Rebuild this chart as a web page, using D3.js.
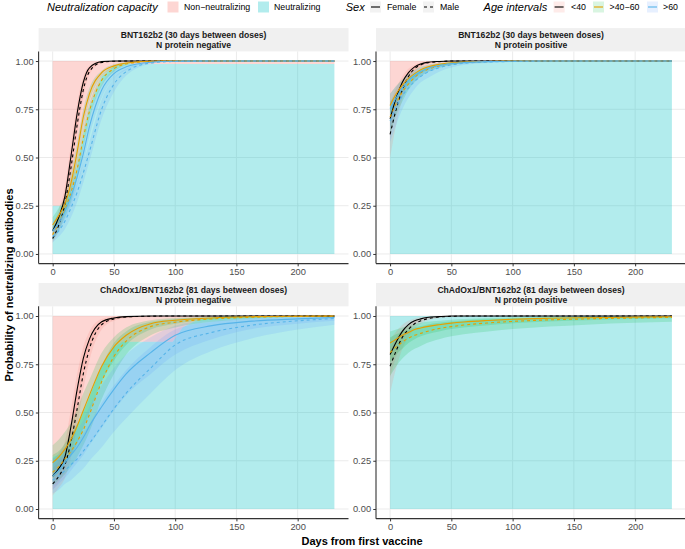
<!DOCTYPE html>
<html><head><meta charset="utf-8">
<script src="https://cdn.jsdelivr.net/npm/d3@7"></script>
<style>
body{margin:0;background:#fff;}
text{font-family:"Liberation Sans",Arial,Helvetica,sans-serif;}
</style></head>
<body>
<svg id="chart" width="685" height="549"></svg>
<script>
// ---------------- data ----------------
const days = [0,5,10,15,20,25,30,40,50,60,80,100,130,160,200,230];
const ageLevels = ["<40", ">40\u221260", ">60"];
const sexLevels = ["Female", "Male"];
const capacityLevels = ["Non\u2212neutralizing", "Neutralizing"];
const xTicks = [0,50,100,150,200];
const yTicks = [0,0.25,0.5,0.75,1];
const panelTitles = [
  ["BNT162b2 (30 days between doses)", "N protein negative"],
  ["BNT162b2 (30 days between doses)", "N protein positive"],
  ["ChAdOx1/BNT162b2 (81 days between doses)", "N protein negative"],
  ["ChAdOx1/BNT162b2 (81 days between doses)", "N protein positive"]
];

// Panel 1: BNT162b2, N protein negative   [Female, Male]
const bntNeg_lt40 = [
  [0.12,0.19,0.30,0.51,0.73,0.89,0.965,0.997,1,1,1,1,1,1,1,1],
  [0.08,0.15,0.26,0.45,0.67,0.85,0.945,0.993,0.999,1,1,1,1,1,1,1]];
const bntNeg_lt40_lo = [
  [0.09,0.15,0.25,0.45,0.68,0.86,0.95,0.993,0.999,1,1,1,1,1,1,1],
  [0.06,0.12,0.22,0.39,0.61,0.81,0.93,0.988,0.998,1,1,1,1,1,1,1]];
const bntNeg_lt40_hi = [
  [0.15,0.23,0.35,0.57,0.78,0.92,0.975,0.999,1,1,1,1,1,1,1,1],
  [0.11,0.19,0.31,0.51,0.72,0.88,0.96,0.996,1,1,1,1,1,1,1,1]];
const bntNeg_4060 = [
  [0.15,0.20,0.26,0.37,0.53,0.71,0.83,0.94,0.975,0.99,0.999,1,1,1,1,1],
  [0.10,0.16,0.23,0.32,0.44,0.60,0.74,0.90,0.96,0.985,0.998,1,1,1,1,1]];
const bntNeg_4060_lo = [
  [0.12,0.17,0.22,0.32,0.48,0.66,0.79,0.92,0.965,0.985,0.997,1,1,1,1,1],
  [0.07,0.12,0.19,0.27,0.39,0.55,0.70,0.87,0.945,0.978,0.996,1,1,1,1,1]];
const bntNeg_4060_hi = [
  [0.19,0.24,0.30,0.42,0.58,0.75,0.86,0.95,0.983,0.994,1,1,1,1,1,1],
  [0.14,0.20,0.27,0.37,0.49,0.65,0.78,0.92,0.972,0.99,0.999,1,1,1,1,1]];
const bntNeg_gt60 = [
  [0.12,0.16,0.22,0.30,0.40,0.52,0.66,0.85,0.935,0.97,0.994,0.999,1,1,1,1],
  [0.09,0.12,0.17,0.24,0.32,0.42,0.53,0.75,0.88,0.945,0.99,0.998,1,1,1,1]];
const bntNeg_gt60_lo = [
  [0.08,0.12,0.18,0.25,0.35,0.47,0.61,0.81,0.91,0.955,0.99,0.998,1,1,1,1],
  [0.06,0.09,0.13,0.19,0.27,0.37,0.48,0.70,0.84,0.925,0.985,0.997,1,1,1,1]];
const bntNeg_gt60_hi = [
  [0.17,0.21,0.27,0.35,0.45,0.57,0.71,0.88,0.955,0.98,0.997,1,1,1,1,1],
  [0.13,0.16,0.21,0.29,0.37,0.47,0.58,0.80,0.91,0.96,0.994,0.999,1,1,1,1]];
const bntNeg_areaX = [0,7,10,15,20,25,30,40,50,60,230];
const bntNeg_areaY = [0.25,0.25,0.26,0.33,0.46,0.62,0.76,0.92,0.97,0.985,0.985];

// Panel 2: BNT162b2, N protein positive
const bntPos_lt40 = [
  [0.70,0.81,0.89,0.94,0.97,0.985,0.993,0.998,1,1,1,1,1,1,1,1],
  [0.62,0.75,0.85,0.92,0.96,0.98,0.99,0.997,1,1,1,1,1,1,1,1]];
const bntPos_lt40_lo = [
  [0.60,0.75,0.85,0.92,0.955,0.977,0.988,0.996,0.999,1,1,1,1,1,1,1],
  [0.50,0.67,0.80,0.89,0.94,0.97,0.984,0.995,0.999,1,1,1,1,1,1,1]];
const bntPos_lt40_hi = [
  [0.78,0.86,0.92,0.96,0.98,0.992,0.996,0.999,1,1,1,1,1,1,1,1],
  [0.72,0.82,0.89,0.945,0.972,0.987,0.994,0.999,1,1,1,1,1,1,1,1]];
const bntPos_4060 = [
  [0.77,0.83,0.875,0.91,0.935,0.955,0.968,0.983,0.991,0.995,0.998,1,1,1,1,1],
  [0.71,0.78,0.84,0.88,0.915,0.94,0.955,0.975,0.987,0.993,0.997,0.999,1,1,1,1]];
const bntPos_4060_lo = [
  [0.70,0.78,0.84,0.88,0.91,0.935,0.955,0.975,0.986,0.992,0.997,0.999,1,1,1,1],
  [0.62,0.72,0.79,0.85,0.89,0.92,0.94,0.965,0.98,0.988,0.995,0.998,1,1,1,1]];
const bntPos_4060_hi = [
  [0.83,0.87,0.905,0.935,0.955,0.97,0.98,0.99,0.995,0.998,0.999,1,1,1,1,1],
  [0.79,0.83,0.875,0.91,0.935,0.955,0.968,0.984,0.992,0.996,0.999,1,1,1,1,1]];
const bntPos_gt60 = [
  [0.75,0.81,0.86,0.90,0.925,0.945,0.96,0.977,0.987,0.992,0.997,0.999,1,1,1,1],
  [0.69,0.76,0.82,0.86,0.895,0.92,0.94,0.965,0.98,0.988,0.995,0.998,1,1,1,1]];
const bntPos_gt60_lo = [
  [0.65,0.74,0.81,0.86,0.895,0.92,0.94,0.965,0.98,0.987,0.995,0.998,1,1,1,1],
  [0.58,0.67,0.75,0.81,0.855,0.89,0.91,0.945,0.967,0.98,0.99,0.996,0.999,1,1,1]];
const bntPos_gt60_hi = [
  [0.83,0.87,0.90,0.93,0.95,0.965,0.975,0.987,0.993,0.996,0.999,1,1,1,1,1],
  [0.78,0.83,0.87,0.90,0.925,0.945,0.96,0.978,0.988,0.993,0.997,0.999,1,1,1,1]];
const bntPos_areaX = [0,5,10,15,20,30,40,55,230];
const bntPos_areaY = [0.76,0.82,0.87,0.91,0.94,0.965,0.985,1,1];

// Panel 3: ChAdOx1/BNT162b2, N protein negative
const chadNeg_lt40 = [
  [0.17,0.21,0.27,0.43,0.62,0.78,0.88,0.97,0.99,0.997,1,1,1,1,1,1],
  [0.13,0.17,0.23,0.35,0.52,0.70,0.83,0.955,0.985,0.995,0.999,1,1,1,1,1]];
const chadNeg_lt40_lo = [
  [0.10,0.14,0.20,0.34,0.53,0.71,0.83,0.95,0.983,0.994,0.999,1,1,1,1,1],
  [0.07,0.11,0.16,0.27,0.43,0.62,0.77,0.93,0.975,0.99,0.998,1,1,1,1,1]];
const chadNeg_lt40_hi = [
  [0.26,0.29,0.35,0.52,0.70,0.84,0.92,0.985,0.996,0.999,1,1,1,1,1,1],
  [0.21,0.25,0.31,0.44,0.61,0.77,0.88,0.972,0.992,0.998,1,1,1,1,1,1]];
const chadNeg_4060 = [
  [0.24,0.27,0.31,0.36,0.43,0.51,0.59,0.74,0.84,0.90,0.96,0.978,0.99,0.996,0.999,1],
  [0.19,0.22,0.26,0.30,0.35,0.41,0.49,0.66,0.79,0.87,0.945,0.968,0.985,0.993,0.998,0.999]];
const chadNeg_4060_lo = [
  [0.16,0.19,0.23,0.28,0.34,0.42,0.50,0.66,0.77,0.85,0.93,0.96,0.98,0.99,0.997,0.999],
  [0.12,0.15,0.18,0.22,0.27,0.33,0.40,0.57,0.70,0.80,0.90,0.94,0.97,0.985,0.995,0.998]];
const chadNeg_4060_hi = [
  [0.33,0.36,0.40,0.45,0.52,0.60,0.67,0.81,0.89,0.94,0.978,0.99,0.996,0.999,1,1],
  [0.28,0.30,0.34,0.39,0.44,0.50,0.58,0.74,0.86,0.92,0.97,0.985,0.994,0.998,0.999,1]];
const chadNeg_gt60 = [
  [0.17,0.20,0.24,0.28,0.32,0.37,0.43,0.53,0.62,0.70,0.81,0.90,0.95,0.972,0.985,0.992],
  [0.15,0.17,0.20,0.23,0.26,0.30,0.34,0.43,0.52,0.60,0.73,0.85,0.915,0.95,0.975,0.987]];
const chadNeg_gt60_lo = [
  [0.10,0.13,0.16,0.20,0.24,0.28,0.33,0.42,0.51,0.59,0.70,0.80,0.88,0.93,0.96,0.975],
  [0.08,0.10,0.13,0.15,0.18,0.21,0.25,0.32,0.40,0.47,0.60,0.72,0.82,0.88,0.93,0.955]];
const chadNeg_gt60_hi = [
  [0.26,0.28,0.32,0.36,0.41,0.46,0.53,0.64,0.73,0.80,0.89,0.95,0.98,0.99,0.995,0.998],
  [0.24,0.26,0.28,0.31,0.35,0.39,0.44,0.55,0.64,0.72,0.84,0.93,0.97,0.985,0.993,0.996]];
const chadNeg_areaX = [0,8,15,20,25,30,35,40,50,57,98,106,115,125,140,230];
const chadNeg_areaY = [0.27,0.29,0.36,0.43,0.51,0.59,0.67,0.74,0.84,0.867,0.867,0.94,0.97,0.99,1,1];

// Panel 4: ChAdOx1/BNT162b2, N protein positive (no >60 group)
const chadPos_lt40 = [
  [0.80,0.865,0.92,0.955,0.975,0.985,0.992,0.997,1,1,1,1,1,1,1,1],
  [0.74,0.82,0.89,0.93,0.96,0.975,0.985,0.995,0.998,1,1,1,1,1,1,1]];
const chadPos_lt40_lo = [
  [0.68,0.79,0.87,0.92,0.955,0.972,0.984,0.994,0.998,1,1,1,1,1,1,1],
  [0.60,0.73,0.83,0.89,0.935,0.96,0.975,0.99,0.996,0.999,1,1,1,1,1,1]];
const chadPos_lt40_hi = [
  [0.88,0.92,0.955,0.975,0.987,0.993,0.996,0.999,1,1,1,1,1,1,1,1],
  [0.84,0.89,0.93,0.96,0.977,0.987,0.993,0.998,1,1,1,1,1,1,1,1]];
const chadPos_4060 = [
  [0.86,0.88,0.90,0.915,0.93,0.938,0.945,0.955,0.963,0.969,0.977,0.983,0.988,0.991,0.994,0.996],
  [0.81,0.84,0.865,0.885,0.90,0.91,0.92,0.935,0.945,0.953,0.964,0.972,0.98,0.985,0.99,0.993]];
const chadPos_4060_lo = [
  [0.76,0.80,0.83,0.86,0.88,0.895,0.905,0.92,0.932,0.94,0.952,0.962,0.972,0.978,0.985,0.988],
  [0.69,0.74,0.78,0.81,0.83,0.845,0.86,0.88,0.895,0.905,0.92,0.932,0.945,0.955,0.965,0.97]];
const chadPos_4060_hi = [
  [0.92,0.93,0.94,0.95,0.96,0.965,0.97,0.976,0.981,0.985,0.99,0.993,0.995,0.997,0.998,0.999],
  [0.89,0.905,0.92,0.93,0.94,0.948,0.955,0.965,0.972,0.977,0.984,0.988,0.992,0.994,0.996,0.997]];
const chadPos_areaX = [0,230];
const chadPos_areaY = [1,1];

// ---------------- styling ----------------
const lineColor = {"<40":"#000000", ">40\u221260":"#E69F00", ">60":"#56B4E9"};
const ribbonColor = {"<40":"#F8766D", ">40\u221260":"#00BA38", ">60":"#619CFF"};
const capColor = {"Non\u2212neutralizing":"#F8766D", "Neutralizing":"#00BFC4"};
const dashOf = {"Female":null, "Male":"3,3"};

const panels = [
  {t:panelTitles[0], col:0,row:0, ax:bntNeg_areaX, ay:bntNeg_areaY,
   groups:[[bntNeg_lt40,bntNeg_lt40_lo,bntNeg_lt40_hi],[bntNeg_4060,bntNeg_4060_lo,bntNeg_4060_hi],[bntNeg_gt60,bntNeg_gt60_lo,bntNeg_gt60_hi]]},
  {t:panelTitles[1], col:1,row:0, ax:bntPos_areaX, ay:bntPos_areaY,
   groups:[[bntPos_lt40,bntPos_lt40_lo,bntPos_lt40_hi],[bntPos_4060,bntPos_4060_lo,bntPos_4060_hi],[bntPos_gt60,bntPos_gt60_lo,bntPos_gt60_hi]]},
  {t:panelTitles[2], col:0,row:1, ax:chadNeg_areaX, ay:chadNeg_areaY,
   groups:[[chadNeg_lt40,chadNeg_lt40_lo,chadNeg_lt40_hi],[chadNeg_4060,chadNeg_4060_lo,chadNeg_4060_hi],[chadNeg_gt60,chadNeg_gt60_lo,chadNeg_gt60_hi]]},
  {t:panelTitles[3], col:1,row:1, ax:chadPos_areaX, ay:chadPos_areaY,
   groups:[[chadPos_lt40,chadPos_lt40_lo,chadPos_lt40_hi],[chadPos_4060,chadPos_4060_lo,chadPos_4060_hi]]}
];

const colX = [[38.6,348.5],[376,686]];
const rowY = [[51.4,263.6],[306.35,518.65]];
const stripH = 23.3;

const svg = d3.select("#chart");

panels.forEach((p,pi)=>{
  const [x0,x1] = colX[p.col], [y0,y1] = rowY[p.row];
  const x = d3.scaleLinear().domain([-11.5,241.5]).range([x0,x1]);
  const y = d3.scaleLinear().domain([-0.05,1.05]).range([y1,y0]);
  const g = svg.append("g");
  const clipId = "clip"+pi;
  g.append("clipPath").attr("id",clipId).append("rect")
    .attr("x",x0).attr("y",y0).attr("width",x1-x0).attr("height",y1-y0);

  // strip
  g.append("rect").attr("x",x0).attr("y",y0-stripH).attr("width",x1-x0).attr("height",stripH).attr("fill","#F0F0F0");
  p.t.forEach((s,i)=>{
    g.append("text").attr("x",(x0+x1)/2).attr("y",y0-stripH+9.6+i*10.6)
      .attr("text-anchor","middle").attr("font-size",8.6).attr("font-weight","bold").attr("fill","#1A1A1A").text(s);
  });

  // grid
  const grid = g.append("g");
  xTicks.forEach(t=>grid.append("line").attr("x1",x(t)).attr("x2",x(t)).attr("y1",y0).attr("y2",y1).attr("stroke","#EBEBEB").attr("stroke-width",1));
  yTicks.forEach(t=>grid.append("line").attr("y1",y(t)).attr("y2",y(t)).attr("x1",x0).attr("x2",x1).attr("stroke","#EBEBEB").attr("stroke-width",1));

  const pl = g.append("g").attr("clip-path",`url(#${clipId})`);
  const areaPts = p.ax.map((d,i)=>[d,p.ay[i]]);
  // neutralizing (below boundary) and non-neutralizing (above)
  pl.append("path").datum(areaPts).attr("fill",capColor["Neutralizing"]).attr("fill-opacity",0.3)
    .attr("d",d3.area().x(d=>x(d[0])).y0(y(0)).y1(d=>y(d[1])));
  pl.append("path").datum(areaPts).attr("fill",capColor["Non\u2212neutralizing"]).attr("fill-opacity",0.3)
    .attr("d",d3.area().x(d=>x(d[0])).y0(d=>y(d[1])).y1(y(1)));

  // ribbons
  p.groups.forEach((grp,ai)=>{
    const age = ageLevels[ai];
    sexLevels.forEach((sx,si)=>{
      const pts = days.map((d,i)=>[d,grp[1][si][i],grp[2][si][i]]);
      pl.append("path").datum(pts).attr("fill",ribbonColor[age]).attr("fill-opacity",0.17)
        .attr("d",d3.area().x(d=>x(d[0])).y0(d=>y(d[1])).y1(d=>y(d[2])).curve(d3.curveMonotoneX));
    });
  });
  // lines
  p.groups.forEach((grp,ai)=>{
    const age = ageLevels[ai];
    sexLevels.forEach((sx,si)=>{
      const pts = days.map((d,i)=>[d,grp[0][si][i]]);
      pl.append("path").datum(pts).attr("fill","none").attr("stroke",lineColor[age]).attr("stroke-width",1.1)
        .attr("stroke-dasharray",dashOf[sx])
        .attr("d",d3.line().x(d=>x(d[0])).y(d=>y(d[1])).curve(d3.curveMonotoneX));
    });
  });

  // axes
  const ax = g.append("g").attr("transform",`translate(0,${y1})`).call(d3.axisBottom(x).tickValues(xTicks).tickSize(2.75).tickPadding(2.2).tickFormat(d3.format("d")));
  const ay = g.append("g").attr("transform",`translate(${x0},0)`).call(d3.axisLeft(y).tickValues(yTicks).tickSize(2.75).tickPadding(2.2).tickFormat(d3.format(".2f")));
  [ax,ay].forEach(a=>{
    a.select(".domain").remove();
    a.selectAll(".tick line").attr("stroke","#333333").attr("stroke-width",1);
    a.selectAll(".tick text").attr("fill","#4D4D4D").attr("font-size",9.3).attr("font-family","Liberation Sans, Arial, sans-serif");
  });
  g.append("line").attr("x1",x0).attr("x2",x1).attr("y1",y1).attr("y2",y1).attr("stroke","#333333").attr("stroke-width",1.1);
  g.append("line").attr("x1",x0).attr("x2",x0).attr("y1",y0).attr("y2",y1).attr("stroke","#333333").attr("stroke-width",1.1);
});

// axis titles
svg.append("text").attr("x",362).attr("y",545).attr("text-anchor","middle").attr("font-size",11).attr("font-weight","bold").attr("fill","#000").text("Days from first vaccine");
svg.append("text").attr("transform","translate(13,285) rotate(-90)").attr("text-anchor","middle").attr("font-size",11).attr("font-weight","bold").attr("fill","#000").text("Probability of neutralizing antibodies");

// legend
const lg = svg.append("g");
const ly = 7, kw = 11, kh = 11;
function title(x,s){lg.append("text").attr("x",x).attr("y",ly+4).attr("font-size",11).attr("font-style","italic").attr("fill","#000").text(s);}
function label(x,s){lg.append("text").attr("x",x).attr("y",ly+3).attr("font-size",8.8).attr("fill","#000").text(s);}
title(47,"Neutralization capacity");
const capX = [167.5, 258];
const capLX = [184, 274];
capacityLevels.forEach((c,i)=>{
  lg.append("rect").attr("x",capX[i]).attr("y",ly-kh/2).attr("width",kw).attr("height",kh).attr("fill",capColor[c]).attr("fill-opacity",0.3);
  label(capLX[i],c);
});
title(345.7,"Sex");
const sexX = [370, 423], sexLX = [387, 440];
sexLevels.forEach((s,i)=>{
  lg.append("rect").attr("x",sexX[i]).attr("y",ly-kh/2).attr("width",kw).attr("height",kh).attr("fill","#F2F2F2");
  lg.append("line").attr("x1",sexX[i]+1).attr("x2",sexX[i]+kw-1).attr("y1",ly).attr("y2",ly).attr("stroke","#000").attr("stroke-width",1.1).attr("stroke-dasharray",dashOf[s]);
  label(sexLX[i],s);
});
title(483.6,"Age intervals");
const ageX = [553.6, 593, 647], ageLX = [571, 609.6, 663];
ageLevels.forEach((a,i)=>{
  lg.append("rect").attr("x",ageX[i]).attr("y",ly-kh/2).attr("width",kw).attr("height",kh).attr("fill",ribbonColor[a]).attr("fill-opacity",0.15);
  lg.append("line").attr("x1",ageX[i]+1).attr("x2",ageX[i]+kw-1).attr("y1",ly).attr("y2",ly).attr("stroke",lineColor[a]).attr("stroke-width",1.1);
  label(ageLX[i],a);
});
</script>
</body></html>
